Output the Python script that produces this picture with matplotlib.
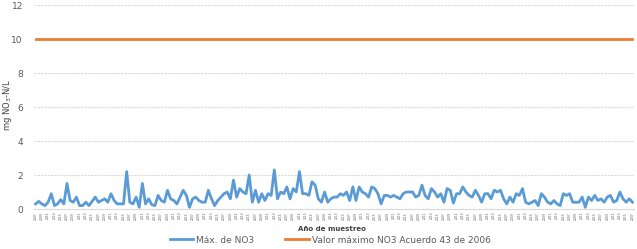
import matplotlib
matplotlib.use("Agg")
import matplotlib.pyplot as plt
import numpy as np

max_no3 = [
    0.3, 0.45, 0.3, 0.2, 0.4, 0.9, 0.2, 0.3, 0.55, 0.3,
    1.5, 0.5, 0.4, 0.7, 0.2, 0.2, 0.4, 0.2, 0.45, 0.7,
    0.4, 0.5, 0.6, 0.4, 0.9, 0.5, 0.3, 0.3, 0.3, 2.2,
    0.4, 0.3, 0.7, 0.1, 1.5, 0.3, 0.6, 0.25, 0.2, 0.8,
    0.5, 0.4, 1.1, 0.6, 0.5, 0.3, 0.7, 1.1, 0.8, 0.1,
    0.6, 0.7, 0.5, 0.4, 0.4, 1.1, 0.6, 0.2, 0.5, 0.7,
    0.9, 1.0, 0.6, 1.7, 0.7, 1.2, 1.0, 0.9, 2.0, 0.4,
    1.1, 0.4, 0.9, 0.5, 0.9, 0.8, 2.3, 0.6, 1.0, 0.9,
    1.3, 0.6, 1.2, 1.0, 2.2, 0.9, 0.9, 0.8, 1.6, 1.4,
    0.6, 0.4, 1.0, 0.4, 0.6, 0.7, 0.7, 0.9, 0.8, 1.0,
    0.5, 1.3, 0.5, 1.3, 1.0, 0.9, 0.7, 1.3, 1.2, 0.9,
    0.3, 0.8, 0.8, 0.7, 0.8, 0.7, 0.6, 0.9, 1.0, 1.0,
    1.0, 0.7, 0.8, 1.4, 0.8, 0.6, 1.2, 1.0, 0.7, 0.9,
    0.4, 1.2, 1.1, 0.35, 0.9, 0.9, 1.3, 1.0, 0.8, 0.7,
    1.1, 0.8, 0.4, 0.9, 0.9, 0.6, 1.1, 1.0, 1.1, 0.6,
    0.3, 0.7, 0.4, 0.9, 0.8, 1.2, 0.4, 0.3, 0.4, 0.5,
    0.2, 0.9, 0.7, 0.4, 0.3, 0.5, 0.3, 0.2, 0.9, 0.8,
    0.9, 0.4, 0.4, 0.4, 0.7, 0.1, 0.7, 0.5, 0.8, 0.5,
    0.6, 0.4, 0.7, 0.8, 0.4, 0.5, 1.0, 0.6, 0.4, 0.6,
    0.4,
]
limit_value = 10

years = ("2007 2008 2009 2010 2011 2012 2013 2014 2015 2016 " * 20).split()[:len(max_no3)]

y_ticks = [0, 2, 4, 6, 8, 10, 12]
blue = "#5B9BD5"
orange = "#ED7D31"
grey = "#595959"

fig = plt.figure(figsize=(6.37, 2.49), dpi=100)
ax = fig.add_axes([34/637, 1-209/249, 600/637, 204/249])

x = np.arange(len(max_no3))
ax.plot(x, max_no3, color=blue, lw=2.0, label="Máx. de NO3", solid_joinstyle="round")
ax.plot(x, [limit_value]*len(x), color=orange, lw=2.0, label="Valor máximo NO3 Acuerdo 43 de 2006")

ax.set_xlim(-0.5, len(x) - 0.5)
ax.set_ylim(0, 12)
ax.set_yticks(y_ticks)
ax.set_yticklabels([str(v) for v in y_ticks], fontsize=6.5, color=grey)
ax.yaxis.grid(True, color="#D9D9D9", lw=0.8, ls=(0, (2, 1)))
ax.set_axisbelow(True)
ax.tick_params(axis="y", length=0, pad=8)

ax.set_xticks(x[::2])
ax.set_xticklabels(years[::2], rotation=90, fontsize=2.2, color=grey)
ax.tick_params(axis="x", length=0, pad=2)

for s in ["top", "right", "left"]:
    ax.spines[s].set_visible(False)
ax.spines["bottom"].set_color("#D9D9D9")

fig.text(8/637, 1-105/249, "mg NO$_3$-N/L", rotation=90, fontsize=6, color="#404040",
         ha="center", va="center")
fig.text(332/637, 1-229/249, "Año de muestreo", fontsize=5, color="#404040",
         ha="center", va="center", fontweight="bold")
fig.legend(loc="center", bbox_to_anchor=(330/637, 1-240/249), ncol=2, frameon=False,
           fontsize=6.5, labelcolor=grey, handlelength=2.6, columnspacing=3.5,
           handletextpad=0.3)

fig.savefig("out.png", dpi=100)
